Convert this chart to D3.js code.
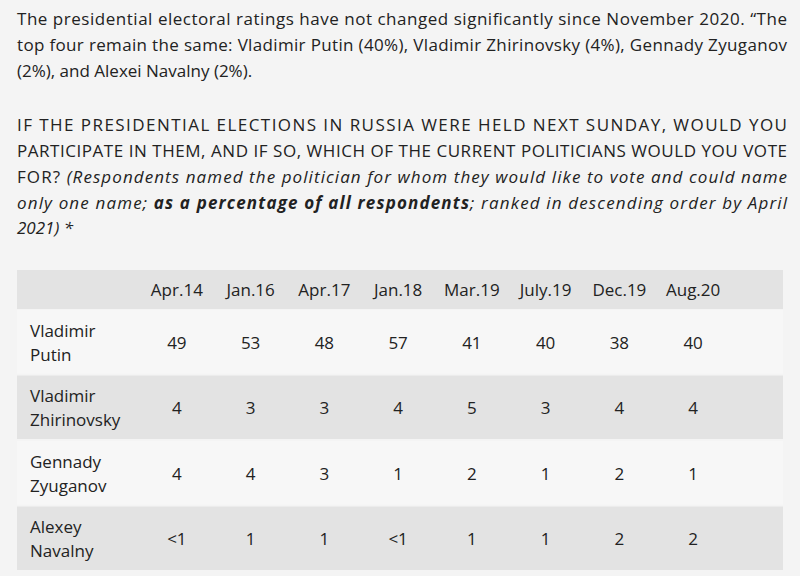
<!DOCTYPE html>
<html>
<head>
<meta charset="utf-8">
<script src="https://cdn.jsdelivr.net/npm/d3@7"></script>
<style>
  body { margin: 0; background: #f4f4f4; }
  text { font-family: "Open Sans", sans-serif; fill: #222; }
</style>
</head>
<body>
<div id="chart"></div>
<script>
// table data
var periods = ["Apr.14", "Jan.16", "Apr.17", "Jan.18", "Mar.19", "July.19", "Dec.19", "Aug.20"];
var names = [["Vladimir", "Putin"], ["Vladimir", "Zhirinovsky"], ["Gennady", "Zyuganov"], ["Alexey", "Navalny"]];
var putin = ["49", "53", "48", "57", "41", "40", "38", "40"];
var zhirinovsky = ["4", "3", "3", "4", "5", "3", "4", "4"];
var zyuganov = ["4", "4", "3", "1", "2", "1", "2", "1"];
var navalny = ["<1", "1", "1", "<1", "1", "1", "2", "2"];
var rows = [putin, zhirinovsky, zyuganov, navalny];

var width = 800, height = 576;
var svg = d3.select("#chart").append("svg")
    .attr("width", width).attr("height", height);

// intro paragraphs: each line is a list of [text, style]
var lines = [
    {y: 25, just: true, parts: [["The presidential electoral ratings have not changed significantly since November 2020. \u201CThe", ""]]},
    {y: 51, just: true, parts: [["top four remain the same: Vladimir Putin (40%), Vladimir Zhirinovsky (4%), Gennady Zyuganov", ""]]},
    {y: 77, just: false, parts: [["(2%), and Alexei Navalny (2%).", ""]]},
    {y: 131, just: true, parts: [["IF THE PRESIDENTIAL ELECTIONS IN RUSSIA WERE HELD NEXT SUNDAY, WOULD YOU", ""]]},
    {y: 157, just: true, parts: [["PARTICIPATE IN THEM, AND IF SO, WHICH OF THE CURRENT POLITICIANS WOULD YOU VOTE", ""]]},
    {y: 183, just: true, parts: [["FOR? ", ""], ["(Respondents named the politician for whom they would like to vote and could name", "i"]]},
    {y: 209, just: true, parts: [["only one name; ", "i"], ["as a percentage of all respondents", "bi"], ["; ranked in descending order by April", "i"]]},
    {y: 234, just: false, parts: [["2021) *", "i"]]}
];

lines.forEach(function(l) {
    var t = svg.append("text").attr("x", 17).attr("y", l.y).attr("font-size", 17);
    if (l.just) t.attr("textLength", 770).attr("lengthAdjust", "spacing");
    l.parts.forEach(function(p) {
        t.append("tspan").text(p[0])
            .attr("font-style", p[1].indexOf("i") >= 0 ? "italic" : "normal")
            .attr("font-weight", p[1].indexOf("b") >= 0 ? "bold" : "normal");
    });
});

// table
var x = d3.scaleBand().domain(periods).range([140, 730]);
var headTop = 270, headH = 39;
var y = d3.scaleBand().domain(d3.range(rows.length)).range([headTop + headH, 571]);

svg.append("rect").attr("x", 17).attr("y", headTop).attr("width", 766).attr("height", headH)
    .attr("fill", "#e3e3e3");

svg.selectAll(".head").data(periods).enter().append("text")
    .attr("x", function(d) { return x(d) + x.bandwidth() / 2; })
    .attr("y", headTop + headH / 2 + 6)
    .attr("text-anchor", "middle").attr("font-size", 17)
    .text(function(d) { return d; });

var g = svg.selectAll(".row").data(rows).enter().append("g")
    .attr("transform", function(d, i) { return "translate(0," + y(i) + ")"; });

g.append("rect").attr("x", 17).attr("width", 766).attr("height", y.bandwidth() - 2)
    .attr("y", 1)
    .attr("fill", function(d, i) { return i % 2 === 0 ? "#f7f7f7" : "#e3e3e3"; });

g.append("text").attr("x", 30).attr("y", y.bandwidth() / 2 - 5).attr("font-size", 17)
    .text(function(d, i) { return names[i][0]; });
g.append("text").attr("x", 30).attr("y", y.bandwidth() / 2 + 19).attr("font-size", 17)
    .text(function(d, i) { return names[i][1]; });

g.selectAll(".val").data(function(d) { return d; }).enter().append("text")
    .attr("x", function(d, j) { return x(periods[j]) + x.bandwidth() / 2; })
    .attr("y", y.bandwidth() / 2 + 7)
    .attr("text-anchor", "middle").attr("font-size", 17)
    .text(function(d) { return d; });
</script>
</body>
</html>
